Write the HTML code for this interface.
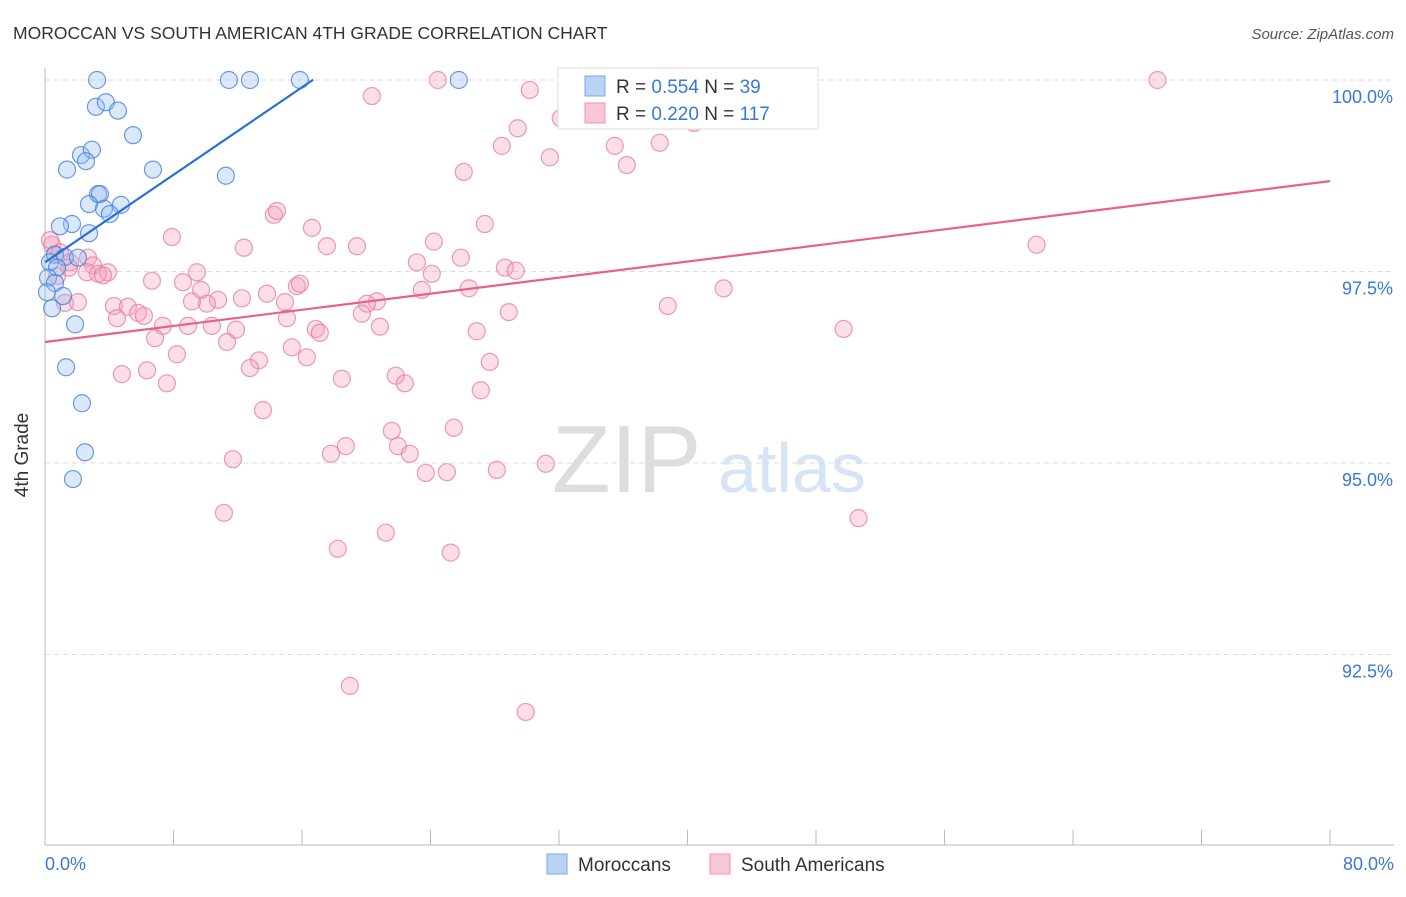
<!DOCTYPE html>
<html><head><meta charset="utf-8"><style>
body{margin:0;background:#fff;font-family:"Liberation Sans",sans-serif;}
svg text{font-family:"Liberation Sans",sans-serif;}
</style></head><body>
<svg id="chart" width="1406" height="892" viewBox="0 0 1406 892" xmlns="http://www.w3.org/2000/svg">
<text x="13" y="39" font-size="17.5" fill="#333">MOROCCAN VS SOUTH AMERICAN 4TH GRADE CORRELATION CHART</text>
<text x="1394" y="39" font-size="15" fill="#555" font-style="italic" text-anchor="end">Source: ZipAtlas.com</text>
<g>
<text x="552" y="492" font-size="96" fill="#ddd" font-family="Liberation Serif, serif">ZIP</text>
<text x="718" y="492" font-size="70" fill="#d6e4f5">atlas</text>
</g>
<g id="grid"></g>
<g id="axes"></g>
<g id="pts"></g>
<g id="trends"></g>
<text x="28" y="455" font-size="19" fill="#333" transform="rotate(-90 28 455)" text-anchor="middle">4th Grade</text>
<g>
<rect x="558" y="68" width="260" height="61" fill="#fff" stroke="#ddd"/>
<rect x="585" y="76" width="20" height="20" fill="#b9d3f5" stroke="#7aa8e6"/>
<rect x="585" y="103" width="20" height="20" fill="#f9c6d6" stroke="#ef96b3"/>
<text x="616" y="93" font-size="19" fill="#333">R = <tspan fill="#3a78d6">0.554</tspan>   N = <tspan fill="#3a78d6"> 39</tspan></text>
<text x="616" y="120" font-size="19" fill="#333">R = <tspan fill="#3a78d6">0.220</tspan>   N = <tspan fill="#3a78d6">117</tspan></text>
</g>
<g>
<rect x="547" y="854" width="20" height="20" fill="#b9d3f5" stroke="#7aa8e6"/>
<text x="578" y="871" font-size="19" fill="#333">Moroccans</text>
<rect x="710" y="854" width="20" height="20" fill="#f9c6d6" stroke="#ef96b3"/>
<text x="741" y="871" font-size="19" fill="#333">South Americans</text>
</g>
</svg>
<script>
const yTicks=[100,97.5,95,92.5];
const yTickLabels=["100.0%","97.5%","95.0%","92.5%"];
const xTickLabels=["0.0%","80.0%"];
const blueX=[3.24,11.45,12.76,15.87,25.76,3.17,3.79,4.54,5.48,2.24,2.92,2.55,1.37,6.72,11.26,3.30,3.42,2.74,4.73,3.67,4.04,1.68,0.93,2.74,0.62,1.24,2.05,0.31,0.75,0.19,0.62,0.12,1.12,0.44,1.87,1.31,2.30,2.49,1.74];
const blueY=[100,100,100,100,100,99.65,99.71,99.60,99.28,99.02,99.09,98.94,98.83,98.83,98.75,98.51,98.51,98.38,98.37,98.32,98.25,98.12,98.09,98.00,97.72,97.69,97.68,97.62,97.55,97.42,97.35,97.23,97.18,97.02,96.81,96.25,95.78,95.14,94.79];
const pinkX=[24.46,32.48,69.26,20.35,30.18,32.11,29.43,28.44,35.47,38.27,31.43,36.22,26.07,40.39,14.25,14.44,16.62,27.38,7.90,24.21,12.38,17.55,19.42,61.73,25.89,23.15,28.63,29.31,24.08,26.39,23.46,42.25,9.46,8.59,6.66,13.82,9.71,15.68,15.87,10.77,12.26,20.66,20.04,4.29,5.16,5.79,6.16,4.48,9.15,10.08,14.94,38.77,28.87,19.73,15.06,16.86,17.11,20.85,26.88,10.39,11.89,8.90,7.34,6.85,11.33,49.72,15.37,16.30,8.21,13.32,12.76,27.69,6.35,4.79,7.59,18.48,21.84,22.40,27.13,13.57,25.45,21.59,18.73,21.97,17.80,22.71,11.70,31.18,28.13,23.71,25.02,11.14,50.65,21.22,18.23,25.26,18.98,29.93,0.44,0.62,0.93,1.56,2.68,2.99,3.92,2.61,3.30,3.61,1.49,0.75,1.24,2.05,0.31];
const pinkY=[100,100,100,99.79,99.87,99.50,99.37,99.14,99.14,99.18,98.99,98.89,98.80,99.44,98.24,98.29,98.07,98.12,97.95,97.89,97.81,97.83,97.83,97.85,97.68,97.62,97.55,97.51,97.47,97.28,97.26,97.28,97.49,97.36,97.38,97.21,97.26,97.31,97.34,97.13,97.15,97.11,97.08,97.05,97.04,96.96,96.92,96.89,97.11,97.08,97.10,97.05,96.97,96.95,96.89,96.75,96.70,96.78,96.72,96.79,96.74,96.79,96.79,96.63,96.58,96.75,96.51,96.38,96.42,96.34,96.24,96.32,96.21,96.16,96.04,96.10,96.14,96.04,95.95,95.69,95.46,95.42,95.22,95.22,95.12,95.12,95.05,94.99,94.91,94.87,94.88,94.35,94.28,94.09,93.88,93.83,92.09,91.75,97.85,97.72,97.75,97.62,97.68,97.58,97.49,97.49,97.47,97.45,97.55,97.44,97.09,97.10,97.91];
const blueTrend=[97.62,0.1428,0,16.7];
const pinkTrend=[96.58,0.02625,0,80];

const NS="http://www.w3.org/2000/svg";
const X0=45,X1=1330,Y100=80,PXPER=76.6;
function sx(v){return X0+v*(X1-X0)/80;}
function sy(v){return Y100+(100-v)*PXPER;}
function mk(tag,attrs,parent){const e=document.createElementNS(NS,tag);for(const k in attrs)e.setAttribute(k,attrs[k]);parent.appendChild(e);return e;}
const grid=document.getElementById('grid'),axes=document.getElementById('axes'),pts=document.getElementById('pts'),tr=document.getElementById('trends');
yTicks.forEach((t,i)=>{
 const l=mk('line',{x1:X0,x2:1394,y1:sy(t),y2:sy(t),stroke:'#ddd','stroke-dasharray':'5,4'},grid);
 
 
 const tx=mk('text',{x:1393,y:sy(t)+23,'font-size':18,fill:'#3a78d6','text-anchor':'end'},axes);
 tx.textContent=yTickLabels[i];
 
 
});
const ya=mk('line',{x1:X0,x2:X0,y1:68,y2:845,stroke:'#bbb'},axes);


const xa=mk('line',{x1:X0,x2:1394,y1:845,y2:845,stroke:'#bbb'},axes);


for(let i=0;i<=10;i++){
 const t=mk('line',{x1:sx(i*8),x2:sx(i*8),y1:830,y2:845,stroke:'#bbb'},axes);
 
 
}
[[0,'start',45],[80,'end',1394]].forEach((d,i)=>{
 const tx=mk('text',{x:d[2],y:870,'font-size':18,fill:'#3a78d6','text-anchor':d[1]},axes);
 tx.textContent=xTickLabels[i];
 
 
});
pinkX.forEach((v,i)=>{
 const c=mk('circle',{cx:sx(v),cy:sy(pinkY[i]),r:8.5,fill:'rgba(244,160,188,0.35)',stroke:'rgba(232,120,160,0.75)','stroke-width':1.2},pts);
 
 
});
blueX.forEach((v,i)=>{
 const c=mk('circle',{cx:sx(v),cy:sy(blueY[i]),r:8.5,fill:'rgba(150,190,240,0.35)',stroke:'rgba(70,130,220,0.8)','stroke-width':1.2},pts);
 
 
});
function trend(p,color,name){
 const l=mk('line',{x1:sx(p[2]),y1:sy(p[0]+p[1]*p[2]),x2:sx(p[3]),y2:sy(p[0]+p[1]*p[3]),stroke:color,'stroke-width':2.2},tr);
 
 
}
trend(blueTrend,'#2a6fd6','trend-moroccans');
trend(pinkTrend,'#e8608e','trend-south-americans');
</script>
</body></html>
